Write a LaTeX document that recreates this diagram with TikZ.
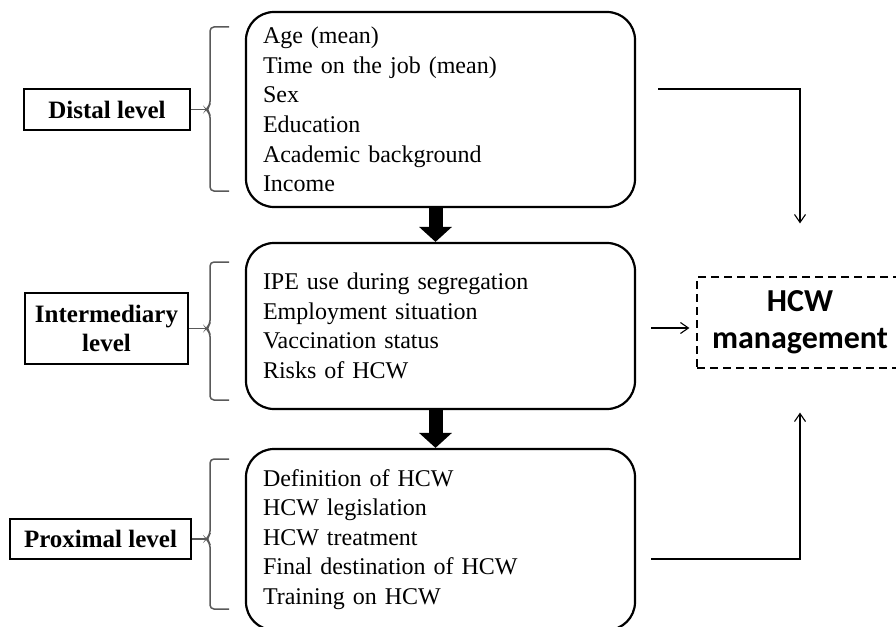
\documentclass[tikz,border=0pt]{standalone}
\usepackage{fontspec}
\setmainfont{Liberation Serif}
\newfontfamily\calibrifont{Carlito}
\usetikzlibrary{arrows.meta, positioning, calc}

\begin{document}
\begin{tikzpicture}[
    x=1pt, y=-1pt,
    >={Straight Barb[length=8pt, width=11pt]},
    levelbox/.style={rectangle, draw, line width=1.3pt, align=center,
                     font=\fontsize{25}{29}\selectfont\bfseries},
    listbox/.style={rectangle, draw, line width=2.2pt, rounded corners=28pt,
                    minimum width=389pt, text width=355pt, inner xsep=17pt,
                    align=left, font=\fontsize{24}{29.6}\selectfont},
    outcome/.style={rectangle, draw, dashed, dash pattern=on 8pt off 5pt,
                    line width=1.2pt, minimum width=206pt, minimum height=91pt,
                    align=center, font=\fontsize{32}{37}\selectfont\calibrifont\bfseries},
    brace/.style={draw=black!65, line width=1.5pt, rounded corners=4pt},
    bigdown/.style={-{Triangle[width=32pt, length=15pt]}, line width=14pt},
    flow/.style={->, line width=1.1pt}
]
    \clip (0,0) rectangle (896,626);

    % --- Cajas de contenido ---
    \node[listbox, minimum height=195pt] (distal) at (440.5,109.5)
        {Age (mean)\\Time on the job (mean)\\Sex\\Education\\Academic background\\Income};
    \node[listbox, minimum height=166pt] (inter) at (440.5,326)
        {IPE use during segregation\\Employment situation\\Vaccination status\\Risks of HCW};
    \node[listbox, minimum height=181pt] (prox) at (440.5,539.5)
        {Definition of HCW\\HCW legislation\\HCW treatment\\Final destination of HCW\\Training on HCW};

    % --- Etiquetas de nivel ---
    \node[levelbox, minimum width=166pt, minimum height=41pt] (distlab) at (107,109.5) {Distal level};
    \node[levelbox, minimum width=163pt, minimum height=71pt] (interlab) at (106.5,328.5) {Intermediary\\level};
    \node[levelbox, minimum width=181pt, minimum height=40pt] (proxlab) at (100.5,539) {Proximal level};

    % --- Resultado ---
    \node[outcome] (hcw) at (800,322.5) {HCW\\management};

    % --- Llaves ---
    \draw[brace] (229,27) -| (210,105.5) -- (206,109.5) -- (210,113.5) |- (229,191);
    \draw[brace] (distlab.east) -- (206,109.5);
    \draw[brace] (229,262) -| (210,324.5) -- (206,328.5) -- (210,332.5) |- (229,400);
    \draw[brace] (interlab.east) -- (206,328.5);
    \draw[brace] (229,459) -| (210,535) -- (206,539) -- (210,543) |- (229,609);
    \draw[brace] (proxlab.east) -- (206,539);

    % --- Flechas gruesas entre niveles ---
    \draw[bigdown] ([xshift=-5pt]distal.south) -- ([xshift=-5pt]inter.north);
    \draw[bigdown] ([xshift=-5pt]inter.south) -- ([xshift=-5pt]prox.north);

    % --- Flechas hacia el resultado ---
    \coordinate (dstart) at (658,89);
    \coordinate (istart) at (651,328);
    \coordinate (pstart) at (651,559);
    \draw[flow] (dstart) -| ([yshift=53pt]hcw.north);
    \draw[flow, shorten >=7pt] (istart) -- (istart -| hcw.west);
    \draw[flow] (pstart) -| ([yshift=-44pt]hcw.south);

\end{tikzpicture}
\end{document}
